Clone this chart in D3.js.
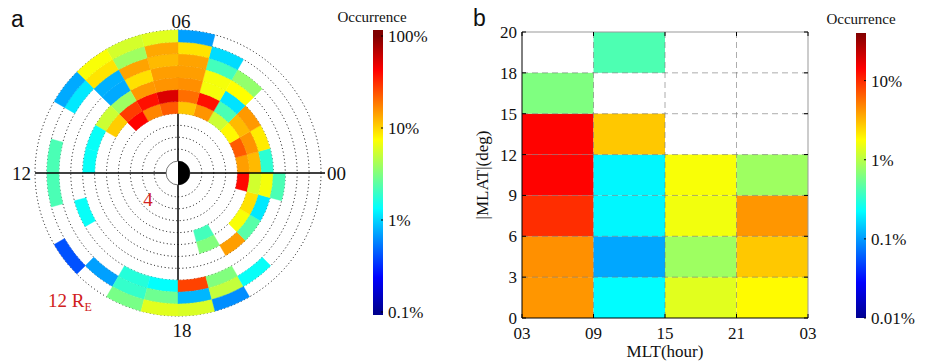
<!DOCTYPE html>
<html>
<head>
<meta charset="utf-8">
<script src="https://cdn.jsdelivr.net/npm/d3@7"></script>
<style>
body{margin:0;background:#fff;}
text{font-family:"Liberation Serif","Times New Roman",serif;fill:#111;}
</style>
</head>
<body>
<svg id="fig" width="925" height="364"></svg>
<script>
// ---------- data: panel a (occurrence %, by radial ring, 24 MLT hour sectors 00..23) ----------
var mltSectors = d3.range(24);
var ringStarts = [5, 6, 7, 8, 9, 10, 11];   // R_E, each ring is 1 R_E wide
var n = null;
var occRing5  = [14.5, 23, 7.8, 5.3, 15.5, 11, 23, 17, 42, n, n, n, n, n, n, n, n, n, n, 2.1, n, n, n, 40];
var occRing6  = [12, 15.5, 12, 2.2, 38, 20, 54, 38, 28, 10.5, n, n, n, n, n, n, n, n, n, 3.2, n, 7.2, 9.2, 5.5];
var occRing7  = [1.8, 8.5, 15, 1.1, 7, 16, 15.5, 15, 3.9, 5.3, 1.4, 1.4, n, n, n, n, n, n, n, n, 14.5, 2.4, 1.15, 7];
var occRing8  = [n, n, n, 7.5, 7, 14.5, 14.5, 9.2, 0.75, n, n, n, n, 1.4, n, n, n, n, n, n, n, n, n, 2.2];
var occRing9  = [n, n, n, 3.6, 2.1, 14, 12, 14, 0.78, n, n, n, n, n, n, n, 1.7, 1.35, 27, 3.2, n, n, n, n];
var occRing10 = [n, n, n, n, 1.05, 9, 13.5, 3.9, 9, 1.15, n, 2.2, 2.2, n, n, 0.7, 1.9, 2.8, 0.82, 5, 1.4, n, n, n];
var occRing11 = [n, n, n, n, n, 0.7, 6.1, 5.6, 7.2, 0.75, n, n, n, n, 0.41, n, 3, 6.1, 5.8, 0.62, n, n, n, n];
var occByRing = [occRing5, occRing6, occRing7, occRing8, occRing9, occRing10, occRing11];
var dotCircles = d3.range(2, 13);            // dotted circles at 2..12 R_E
var mltLabelsA = ['00', '06', '12', '18'];
var cbarTicksA = [0.1, 1, 10, 100];

// ---------- data: panel b (occurrence %, MLT bins x |MLAT| bins) ----------
var mltBinsB = ['03-09', '09-15', '15-21', '21-03'];
var mltTicksB = ['03', '09', '15', '21', '03'];
var latTicksB = ['0', '3', '6', '9', '12', '15', '18', '20'];
// bottom (0-3) to top (18-20)
var occB0309 = [4.2, 4.4, 9.8, 14, 14, 0.63, n];
var occB0915 = [0.22, 0.11, 0.21, 0.21, 2.8, n, 0.42];
var occB1521 = [1.4, 0.81, 1.6, 1.7, n, n, n];
var occB2103 = [1.85, 2.8, 4.2, 0.81, n, n, n];
var occB = [occB0309, occB0915, occB1521, occB2103];
var cbarTicksB = [0.01, 0.1, 1, 10];

// ---------- jet colormap ----------
var jetStops = [0, 0.125, 0.375, 0.625, 0.875, 1];
var jetColors = ['#00008f', '#0000ff', '#00ffff', '#ffff00', '#ff0000', '#800000'];
var jet = d3.scaleLinear().domain(jetStops).range(jetColors).clamp(true);

var svg = d3.select('#fig');
var defs = svg.append('defs');

// colorbar: bar drawn from y0 to y1, value scale mapped onto [v0, v1] (bottom, top)
function colorbar(id, x, y0, y1, v0, v1, logScale, ticks, fmt) {
	var g = defs.append('linearGradient').attr('id', id)
		.attr('gradientUnits', 'userSpaceOnUse')
		.attr('x1', 0).attr('y1', v0).attr('x2', 0).attr('y2', v1);
	jetStops.forEach(function(s, i){
		g.append('stop').attr('offset', s).attr('stop-color', jetColors[i]);
	});
	svg.append('rect').attr('x', x).attr('y', y0).attr('width', 10).attr('height', y1 - y0)
		.attr('fill', 'url(#' + id + ')');
	var ys = logScale.copy().range([v0, v1]);
	ticks.forEach(function(t){
		svg.append('line').attr('x1', x + 8).attr('x2', x + 10)
			.attr('y1', ys(t)).attr('y2', ys(t)).attr('stroke', '#000');
		svg.append('text').attr('x', x + 15).attr('y', ys(t)).attr('dy', '0.35em')
			.style('font-size', '17px').text(fmt(t));
	});
}
function pct(t){ return (t < 1 ? String(t) : d3.format('d')(t)) + '%'; }

// =================== panel a ===================
var cx = 178, cy = 173;
var r = d3.scaleLinear().domain([0, 12]).range([0, 143]);
var logA = d3.scaleLog().domain([0.1, 100]).range([0, 1]).clamp(true);
var ga = svg.append('g').attr('transform', 'translate(' + cx + ',' + cy + ')');

// dotted range circles
ga.selectAll('circle.dot').data(dotCircles).enter().append('circle')
	.attr('class', 'dot').attr('r', function(d){ return r(d); })
	.attr('fill', 'none').attr('stroke', '#000').attr('stroke-width', 1)
	.attr('stroke-dasharray', '1,2.6');

// vertical axis (under the cells)
ga.append('line').attr('x1', 0).attr('x2', 0).attr('y1', -r(12)).attr('y2', r(12))
	.attr('stroke', '#000').attr('stroke-width', 1.5);

// occurrence cells
var cells = [];
occByRing.forEach(function(arr, i){
	arr.forEach(function(v, h){
		if (v !== null) cells.push({ring: ringStarts[i], mlt: mltSectors[h], occ: v});
	});
});
var deg = Math.PI / 180;
var arc = d3.arc()
	.innerRadius(function(d){ return r(d.ring); })
	.outerRadius(function(d){ return r(d.ring + 1); })
	.startAngle(function(d){ return (90 - 15 * (d.mlt + 1)) * deg; })
	.endAngle(function(d){ return (90 - 15 * d.mlt) * deg; });
ga.selectAll('path.cell').data(cells).enter().append('path')
	.attr('class', 'cell').attr('d', arc)
	.attr('fill', function(d){ return jet(logA(d.occ)); })
	.attr('stroke', function(d){ return jet(logA(d.occ)); })
	.attr('stroke-width', 0.4);

// horizontal axis (over the cells)
ga.append('line').attr('x1', -r(12)).attr('x2', r(12) + 4).attr('y1', 0).attr('y2', 0)
	.attr('stroke', '#000').attr('stroke-width', 1.5);

// Earth: day side white, night side black
ga.append('circle').attr('r', r(1)).attr('fill', '#fff').attr('stroke', '#555').attr('stroke-width', 0.8);
ga.append('path').attr('d', d3.arc()({innerRadius: 0, outerRadius: r(1), startAngle: 0, endAngle: Math.PI}))
	.attr('fill', '#000');

// MLT labels
var mltPos = {'00': [r(12) + 6, 0, 'start'], '06': [3, -r(12) - 9, 'middle'],
	'12': [-r(12) - 4, 0, 'end'], '18': [4, r(12) + 14, 'middle']};
mltLabelsA.forEach(function(l){
	var p = mltPos[l];
	ga.append('text').attr('x', p[0]).attr('y', p[1]).attr('dy', '0.35em')
		.attr('text-anchor', p[2]).style('font-size', '19px').text(l);
});
ga.append('text').attr('x', -30).attr('y', 33).attr('text-anchor', 'middle')
	.style('font-size', '19px').style('fill', '#d02020').text('4');
var re = ga.append('text').attr('x', -130).attr('y', 134).style('font-size', '19px').style('fill', '#d02020');
re.append('tspan').text('12 R');
re.append('tspan').attr('dy', 4).style('font-size', '12px').style('fill', '#d02020').text('E');

svg.append('text').attr('x', 11).attr('y', 27).style('font-family', '"Liberation Sans",Arial,sans-serif')
	.style('font-size', '23px').text('a');
svg.append('text').attr('x', 372).attr('y', 22).attr('text-anchor', 'middle')
	.style('font-size', '15px').text('Occurrence');
colorbar('jetA', 373, 30, 315, 312, 36, d3.scaleLog().domain([0.1, 100]), cbarTicksA, pct);

// =================== panel b ===================
var pL = 522, pR = 808, pT = 32, pB = 318;
var x = d3.scaleBand().domain(mltBinsB).range([pL, pR]).padding(0);
var y = d3.scaleLinear().domain([0, 7]).range([pB, pT]);
var xt = d3.scaleLinear().domain([0, 4]).range([pL, pR]);
var logB = d3.scaleLog().domain([0.01, 40]).range([0, 1]).clamp(true);

var bCells = [];
occB.forEach(function(col, i){
	col.forEach(function(v, j){
		if (v !== null) bCells.push({mlt: mltBinsB[i], row: j, occ: v});
	});
});
svg.selectAll('rect.bcell').data(bCells).enter().append('rect')
	.attr('class', 'bcell')
	.attr('x', function(d){ return x(d.mlt); })
	.attr('y', function(d){ return y(d.row + 1); })
	.attr('width', x.bandwidth())
	.attr('height', function(d){ return y(d.row) - y(d.row + 1); })
	.attr('fill', function(d){ return jet(logB(d.occ)); });

// dashed grid
var gridG = svg.append('g').attr('stroke', '#777').attr('stroke-opacity', 0.6)
	.attr('stroke-dasharray', '6,4').attr('stroke-width', 1);
d3.range(1, 7).forEach(function(j){
	gridG.append('line').attr('x1', pL).attr('x2', pR).attr('y1', y(j)).attr('y2', y(j));
});
d3.range(1, 4).forEach(function(i){
	gridG.append('line').attr('x1', xt(i)).attr('x2', xt(i)).attr('y1', pT).attr('y2', pB);
});

// frame
svg.append('line').attr('x1', pL).attr('x2', pR).attr('y1', pT).attr('y2', pT).attr('stroke', '#999');
svg.append('line').attr('x1', pR).attr('x2', pR).attr('y1', pT).attr('y2', pB).attr('stroke', '#999');
svg.append('line').attr('x1', pL).attr('x2', pL).attr('y1', pT).attr('y2', pB).attr('stroke', '#000');
svg.append('line').attr('x1', pL).attr('x2', pR).attr('y1', pB).attr('y2', pB).attr('stroke', '#000');

// ticks + labels
latTicksB.forEach(function(l, j){
	svg.append('line').attr('x1', pL).attr('x2', pL + 4).attr('y1', y(j)).attr('y2', y(j)).attr('stroke', '#000');
	svg.append('line').attr('x1', pR - 4).attr('x2', pR).attr('y1', y(j)).attr('y2', y(j)).attr('stroke', '#000');
	svg.append('text').attr('x', pL - 5).attr('y', y(j)).attr('dy', '0.35em').attr('text-anchor', 'end')
		.style('font-size', '17px').text(l);
});
mltTicksB.forEach(function(l, i){
	svg.append('line').attr('x1', xt(i)).attr('x2', xt(i)).attr('y1', pB).attr('y2', pB - 4).attr('stroke', '#000');
	svg.append('line').attr('x1', xt(i)).attr('x2', xt(i)).attr('y1', pT).attr('y2', pT + 4).attr('stroke', '#000');
	svg.append('text').attr('x', xt(i)).attr('y', pB + 21).attr('text-anchor', 'middle')
		.style('font-size', '17px').text(l);
});
svg.append('text').attr('x', (pL + pR) / 2).attr('y', 357).attr('text-anchor', 'middle')
	.style('font-size', '17px').text('MLT(hour)');
svg.append('text').attr('transform', 'translate(488,' + ((pT + pB) / 2) + ') rotate(-90)')
	.attr('text-anchor', 'middle').style('font-size', '17px').text('|MLAT|(deg)');

svg.append('text').attr('x', 473).attr('y', 26).style('font-family', '"Liberation Sans",Arial,sans-serif')
	.style('font-size', '23px').text('b');
svg.append('text').attr('x', 861).attr('y', 24).attr('text-anchor', 'middle')
	.style('font-size', '15px').text('Occurrence');
colorbar('jetB', 856, 33, 318, 318, 33, d3.scaleLog().domain([0.01, 40]), cbarTicksB, pct);
</script>
</body>
</html>
